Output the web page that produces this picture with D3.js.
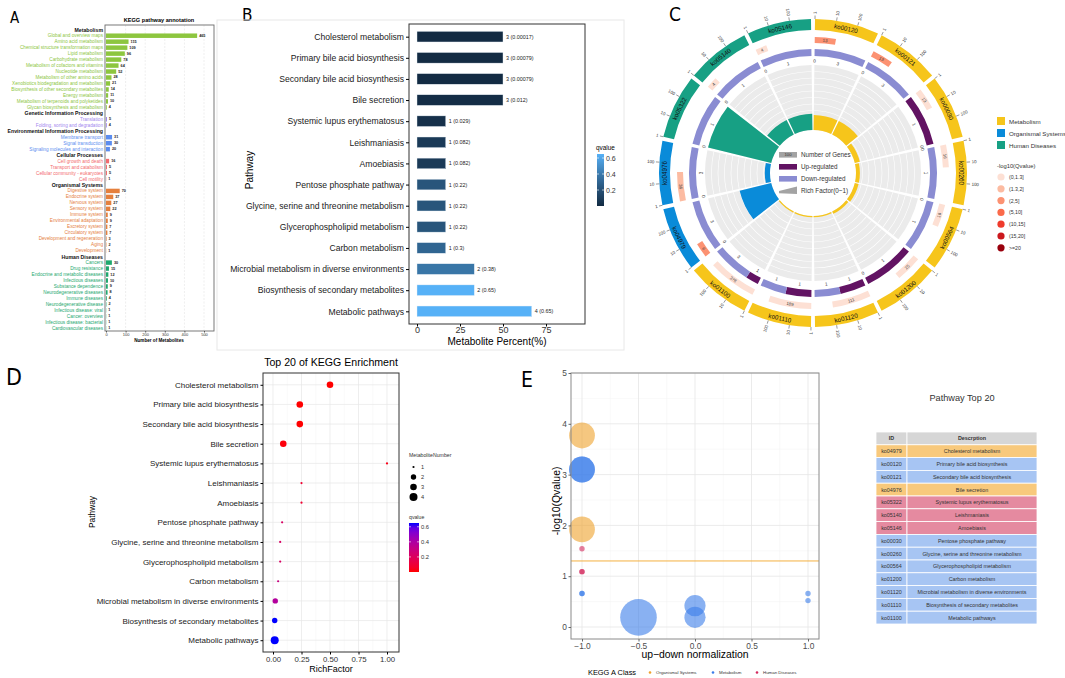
<!DOCTYPE html>
<html>
<head>
<meta charset="utf-8">
<script src="https://d3js.org/d3.v7.min.js"></script>
<style>
  body { margin: 0; background: #fff; }
  svg text { font-family: "Liberation Sans", Arial, sans-serif; }
  svg text.tag { font-family: "Liberation Sans Narrow", "DejaVu Sans Condensed", sans-serif; }
</style>
</head>
<body>
<script>
// ---------- data: panel A (KEGG pathway annotation) ----------
const aClasses = ["Metabolism", "Genetic Information Processing", "Environmental Information Processing",
  "Cellular Processes", "Organismal Systems", "Human Diseases"];
const aClassColors = ["#8dc63f", "#9f86ee", "#5b8def", "#f36b6e", "#e5803d", "#1ea86f"];
const metTerms = ["Global and overview maps", "Amino acid metabolism", "Chemical structure transformation maps",
  "Lipid metabolism", "Carbohydrate metabolism", "Metabolism of cofactors and vitamins", "Nucleotide metabolism",
  "Metabolism of other amino acids", "Xenobiotics biodegradation and metabolism",
  "Biosynthesis of other secondary metabolites", "Energy metabolism",
  "Metabolism of terpenoids and polyketides", "Glycan biosynthesis and metabolism"];
const metCounts = [465, 115, 109, 96, 78, 64, 52, 28, 21, 14, 11, 10, 4];
const genTerms = ["Translation", "Folding, sorting and degradation"];
const genCounts = [5, 4];
const envTerms = ["Membrane transport", "Signal transduction", "Signaling molecules and interaction"];
const envCounts = [31, 30, 20];
const celTerms = ["Cell growth and death", "Transport and catabolism", "Cellular community - eukaryotes", "Cell motility"];
const celCounts = [16, 5, 5, 1];
const orgTerms = ["Digestive system", "Endocrine system", "Nervous system", "Sensory system", "Immune system",
  "Environmental adaptation", "Excretory system", "Circulatory system", "Development and regeneration",
  "Aging", "Development"];
const orgCounts = [70, 37, 27, 22, 9, 9, 7, 7, 3, 2, 1];
const humTerms = ["Cancers", "Drug resistance", "Endocrine and metabolic diseases", "Infectious diseases",
  "Substance dependence", "Neurodegenerative diseases", "Immune diseases", "Neurodegenerative disease",
  "Infectious disease: viral", "Cancer: overview", "Infectious disease: bacterial", "Cardiovascular diseases"];
const humCounts = [30, 15, 12, 10, 9, 8, 4, 2, 1, 1, 1, 1];

// ---------- data: panels B, D, E (enriched pathways) ----------
const pathways = ["Cholesterol metabolism", "Primary bile acid biosynthesis", "Secondary bile acid biosynthesis",
  "Bile secretion", "Systemic lupus erythematosus", "Leishmaniasis", "Amoebiasis", "Pentose phosphate pathway",
  "Glycine, serine and threonine metabolism", "Glycerophospholipid metabolism", "Carbon metabolism",
  "Microbial metabolism in diverse environments", "Biosynthesis of secondary metabolites", "Metabolic pathways"];
const pathwayIds = ["ko04979", "ko00120", "ko00121", "ko04976", "ko05322", "ko05140", "ko05146", "ko00030",
  "ko00260", "ko00564", "ko01200", "ko01120", "ko01110", "ko01100"];
const pathwayClass = ["Organismal Systems", "Metabolism", "Metabolism", "Organismal Systems", "Human Diseases",
  "Human Diseases", "Human Diseases", "Metabolism", "Metabolism", "Metabolism", "Metabolism", "Metabolism",
  "Metabolism", "Metabolism"];
const metNumber = [3, 3, 3, 3, 1, 1, 1, 1, 1, 1, 1, 2, 2, 4];
const metPercent = [50, 50, 50, 50, 16.7, 16.7, 16.7, 16.7, 16.7, 16.7, 16.7, 33.3, 33.3, 66.7];
const qText = ["0.00017", "0.00079", "0.00079", "0.012", "0.029", "0.082", "0.082", "0.22", "0.22", "0.22",
  "0.3", "0.38", "0.65", "0.65"];
const richFactor = [0.5, 0.235, 0.235, 0.09, 1, 0.25, 0.25, 0.08, 0.063, 0.063, 0.045, 0.02, 0.015, 0.015];
const eNorm = [-1, -1, -1, -1, -1, -1, -1, 1, -1, -1, 1, 0, 0, -0.5];
const eLogQ = [3.77, 3.1, 3.1, 1.92, 1.54, 1.09, 1.09, 0.66, 0.66, 0.66, 0.52, 0.42, 0.19, 0.19];

// ---------- data: panel C (circos) ----------
const cIds = ["ko00120", "ko00121", "ko00030", "ko00260", "ko00564", "ko01200", "ko01120", "ko01110", "ko01100",
  "ko04979", "ko04976", "ko05322", "ko05140", "ko05146"];
const cClass = [0, 0, 0, 0, 0, 0, 0, 0, 0, 1, 1, 2, 2, 2];
const cGenes = [13, 13, 13, 16, 16, 25, 111, 189, 378, 6, 36, 1, 4, 4];
const cUp = [0, 0, 1, 0, 0, 1, 1, 1, 1, 0, 0, 0, 0, 0];
const cDown = [3, 3, 0, 1, 1, 0, 1, 1, 3, 3, 3, 1, 1, 1];
const cRich = [0.23, 0.23, 0.08, 0.06, 0.06, 0.04, 0.02, 0.01, 0.01, 0.5, 0.08, 1, 0.25, 0.25];
const cQLevel = [2, 2, 0, 0, 0, 0, 0, 0, 0, 2, 1, 0, 0, 0];
const cClassNames = ["Metabolism", "Organismal Systems", "Human Diseases"];
const cClassColors = ["#f6c51b", "#0a8bd9", "#17a084"];
const qLabels = ["(0,1.3]", "(1.3,2]", "(2,5]", "(5,10]", "(10,15]", "(15,20]", ">=20"];
const qColors = ["#fde0d4", "#fcbba1", "#fc9272", "#fb6a4a", "#ef3b2c", "#cb181d", "#99000d"];
const cTicks = [1, 10, 100];

// ---------- svg ----------
const svg = d3.select("body").append("svg").attr("width", 1065).attr("height", 678);
svg.append("rect").attr("width", 1065).attr("height", 678).attr("fill", "#fff");

// panel letters
[["A", 10, 23, 15], ["B", 242, 21, 17], ["C", 669, 21, 19], ["D", 6, 385, 23], ["E", 521, 387, 21]]
  .forEach(d => svg.append("text").attr("class", "tag").attr("x", d[1]).attr("y", d[2])
    .attr("font-size", d[3]).text(d[0]));

// =============== panel A ===============
const aTerms = [metTerms, genTerms, envTerms, celTerms, orgTerms, humTerms];
const aCounts = [metCounts, genCounts, envCounts, celCounts, orgCounts, humCounts];
const aRows = [];
aClasses.forEach((c, ci) => {
  aRows.push({ label: c, header: true, ci });
  aTerms[ci].forEach((t, i) => aRows.push({ label: t, value: aCounts[ci][i], ci }));
});
const xA = d3.scaleLinear().domain([0, 500]).range([106, 204]);
const yA = d3.scaleBand().domain(d3.range(aRows.length)).range([26, 332]).padding(0.25);
const gA = svg.append("g");
gA.append("text").attr("x", 159).attr("y", 22).attr("text-anchor", "middle")
  .attr("font-size", 5.6).attr("font-weight", "bold").text("KEGG pathway annotation");
gA.selectAll("line.grid").data([100, 200, 300, 400, 500]).join("line")
  .attr("x1", d => xA(d)).attr("x2", d => xA(d)).attr("y1", 25).attr("y2", 331)
  .attr("stroke", "#dcdcdc").attr("stroke-width", 0.5).attr("stroke-dasharray", "2,1.5");
const rowsA = aRows.map((d, i) => ({ ...d, i }));
gA.selectAll("rect.bar").data(rowsA.filter(d => !d.header)).join("rect")
  .attr("x", xA(0)).attr("y", d => yA(d.i)).attr("width", d => xA(d.value) - xA(0))
  .attr("height", yA.bandwidth()).attr("fill", d => aClassColors[d.ci]);
gA.selectAll("text.val").data(rowsA.filter(d => !d.header)).join("text")
  .attr("x", d => xA(d.value) + 2).attr("y", d => yA(d.i) + yA.bandwidth() / 2)
  .attr("dominant-baseline", "central").attr("font-size", 3.8).attr("font-weight", "bold")
  .attr("fill", "#222").text(d => d.value);
gA.selectAll("text.lab").data(rowsA).join("text")
  .attr("x", 103).attr("y", d => yA(d.i) + yA.bandwidth() / 2).attr("text-anchor", "end")
  .attr("dominant-baseline", "central")
  .attr("font-size", d => d.header ? 5.2 : 4.7).attr("font-weight", d => d.header ? "bold" : "normal")
  .attr("fill", d => d.header ? "#111" : aClassColors[d.ci]).text(d => d.label);
gA.append("rect").attr("x", 105).attr("y", 25).attr("width", 109).attr("height", 306)
  .attr("fill", "none").attr("stroke", "#6b6b6b").attr("stroke-width", 0.9);
const axA = gA.append("g").attr("transform", "translate(0,331)")
  .call(d3.axisBottom(xA).tickValues([0, 100, 200, 300, 400, 500]).tickSize(1.5).tickPadding(1));
axA.select(".domain").remove();
axA.selectAll("text").attr("font-size", 4).attr("fill", "#333");
axA.selectAll("line").attr("stroke", "#555");
gA.append("text").attr("x", 159).attr("y", 342).attr("text-anchor", "middle")
  .attr("font-size", 4.6).attr("font-weight", "bold").text("Number of Metabolites");

// =============== panel B ===============
const gB = svg.append("g");
gB.append("rect").attr("x", 217).attr("y", 20).attr("width", 407).attr("height", 330)
  .attr("fill", "none").attr("stroke", "#e8e8e8").attr("stroke-width", 1);
const yB = d3.scalePoint().domain(pathways).range([24, 324]).padding(0.6);
const xB = d3.scaleLinear().domain([0, 75]).range([417, 546]);
const qB = d3.scaleLinear().domain([0, 0.65]).range(["#132b43", "#56b1f7"]).interpolate(d3.interpolateLab);
const rowsB = pathways.map((p, i) => ({ p, v: metPercent[i], n: metNumber[i], q: qText[i] }));
gB.selectAll("rect.bar").data(rowsB).join("rect")
  .attr("x", xB(0)).attr("y", d => yB(d.p) - 5.3).attr("width", d => xB(d.v) - xB(0)).attr("height", 10.6)
  .attr("fill", d => qB(+d.q)).attr("stroke", "#e6eef5").attr("stroke-width", 0.4);
gB.selectAll("text.val").data(rowsB).join("text")
  .attr("x", d => xB(d.v) + 3).attr("y", d => yB(d.p)).attr("dominant-baseline", "central")
  .attr("font-size", 5.4).attr("fill", "#222").text(d => `${d.n} (${d.q})`);
gB.append("rect").attr("x", 409).attr("y", 24).attr("width", 176).attr("height", 300)
  .attr("fill", "none").attr("stroke", "#333").attr("stroke-width", 1);
const ayB = gB.append("g").attr("transform", "translate(409,0)").call(d3.axisLeft(yB).tickSize(3).tickPadding(2));
ayB.select(".domain").remove();
ayB.selectAll("text").attr("font-size", 8.6).attr("fill", "#1a1a1a");
const axB = gB.append("g").attr("transform", "translate(0,324)")
  .call(d3.axisBottom(xB).tickValues([0, 25, 50, 75]).tickSize(2.5).tickPadding(0.5));
axB.select(".domain").remove();
axB.selectAll("text").attr("font-size", 9).attr("fill", "#333");
gB.append("text").attr("x", 497).attr("y", 345).attr("text-anchor", "middle").attr("font-size", 10)
  .text("Metabolite Percent(%)");
gB.append("text").attr("transform", "translate(253,170) rotate(-90)").attr("text-anchor", "middle")
  .attr("font-size", 10).text("Pathway");
// qvalue colour bar
const defs = svg.append("defs");
const gradB = defs.append("linearGradient").attr("id", "gradB").attr("x1", 0).attr("y1", 1).attr("x2", 0).attr("y2", 0);
d3.range(0, 1.01, 0.1).forEach(t => gradB.append("stop").attr("offset", t).attr("stop-color", qB(t * 0.65)));
const cbB = d3.scaleLinear().domain([0, 0.65]).range([206, 154]);
gB.append("text").attr("x", 596).attr("y", 150).attr("font-size", 6.4).text("qvalue");
gB.append("rect").attr("x", 597).attr("y", 154).attr("width", 7).attr("height", 52).attr("fill", "url(#gradB)");
[0.2, 0.4, 0.6].forEach(v => {
  gB.append("line").attr("x1", 597).attr("x2", 599).attr("y1", cbB(v)).attr("y2", cbB(v)).attr("stroke", "#fff").attr("stroke-width", 0.6);
  gB.append("line").attr("x1", 602).attr("x2", 604).attr("y1", cbB(v)).attr("y2", cbB(v)).attr("stroke", "#fff").attr("stroke-width", 0.6);
  gB.append("text").attr("x", 606).attr("y", cbB(v)).attr("dominant-baseline", "central")
    .attr("font-size", 7).attr("fill", "#333").text(v.toFixed(1));
});

// =============== panel C ===============
const cx = 813, cy = 173;
const gC = svg.append("g").attr("transform", `translate(${cx},${cy})`);
const nS = cIds.length, span = 360 / nS, pad = 0.75;
const ang = (i, f) => i * span + pad + f * (span - 2 * pad);
const rad = d => d * Math.PI / 180;
const pol = (r, deg) => [r * Math.sin(rad(deg)), -r * Math.cos(rad(deg))];
const tang = deg => (deg > 90 && deg < 270) ? deg - 180 : deg;
const logF = d3.scaleLog().domain([1, 1000]).range([0, 1]);
const arc = d3.arc();
const seg = (r0, r1, a0, a1) => arc({ innerRadius: r0, outerRadius: r1, startAngle: rad(a0), endAngle: rad(a1) });
const R0 = 43, R1 = 108;
const rRich = d3.scaleLinear().domain([0, 1]).range([R0, R1]);

cIds.forEach((id, i) => {
  const col = cClassColors[cClass[i]];
  // rich factor background and bar
  gC.append("path").attr("d", seg(R0, R1, ang(i, 0), ang(i, 1))).attr("fill", "#ebebeb");
  d3.range(1, 10).forEach(k => gC.append("path")
    .attr("d", seg(rRich(k / 10) - 0.3, rRich(k / 10) + 0.3, ang(i, 0), ang(i, 1))).attr("fill", "#fff"));
  gC.append("path").attr("d", seg(R0, Math.max(rRich(cRich[i]), R0 + 1.3), ang(i, 0), ang(i, 1))).attr("fill", col);
  // up / down ring
  const tot = cUp[i] + cDown[i], fUp = cUp[i] / tot;
  if (cUp[i] > 0) gC.append("path").attr("d", seg(117, 124, ang(i, 0), ang(i, fUp))).attr("fill", "#621363");
  if (cDown[i] > 0) gC.append("path").attr("d", seg(117, 124, ang(i, fUp), ang(i, 1))).attr("fill", "#8a8cd2");
  [[cUp[i], ang(i, fUp / 2)], [cDown[i], ang(i, (1 + fUp) / 2)]].forEach(([v, a]) => {
    const [x, y] = pol(112, a);
    gC.append("text").attr("transform", `translate(${x},${y}) rotate(${tang(a)})`)
      .attr("text-anchor", "middle").attr("dominant-baseline", "central")
      .attr("font-size", 4.6).attr("fill", "#333").text(v);
  });
  // number of genes
  const fG = logF(cGenes[i]);
  if (fG > 0) {
    gC.append("path").attr("d", seg(130, 136, ang(i, 0), ang(i, fG))).attr("fill", qColors[cQLevel[i]]);
    const a = ang(i, fG / 2), [x, y] = pol(133, a);
    gC.append("text").attr("transform", `translate(${x},${y}) rotate(${tang(a)})`)
      .attr("text-anchor", "middle").attr("dominant-baseline", "central")
      .attr("font-size", 4.4).attr("fill", "#444").text(cGenes[i]);
  }
  // outer class ring
  gC.append("path").attr("d", seg(143, 154, ang(i, 0), ang(i, 1))).attr("fill", col);
  const am = ang(i, 0.5), [tx, ty] = pol(148.5, am);
  gC.append("text").attr("transform", `translate(${tx},${ty}) rotate(${tang(am)})`)
    .attr("text-anchor", "middle").attr("dominant-baseline", "central")
    .attr("font-size", 6.3).attr("fill", "#111").text(id);
  cTicks.forEach(t => {
    const a = ang(i, logF(t)), [x1, y1] = pol(154, a), [x2, y2] = pol(157.5, a), [lx, ly] = pol(159, a);
    gC.append("line").attr("x1", x1).attr("y1", y1).attr("x2", x2).attr("y2", y2)
      .attr("stroke", "#555").attr("stroke-width", 0.6);
    const right = a <= 180;
    gC.append("text").attr("transform", `translate(${lx},${ly}) rotate(${right ? a - 90 : a - 270})`)
      .attr("text-anchor", right ? "start" : "end").attr("dominant-baseline", "central")
      .attr("font-size", 4.4).attr("fill", "#333").text(t);
  });
});

// centre legend
const gCL = svg.append("g");
const cLeg = [["Number of Genes", "#a3a3a3", 152], ["Up-regulated", "#621363", 164], ["Down-regulated", "#8a8cd2", 176]];
cLeg.forEach(d => {
  gCL.append("rect").attr("x", 779).attr("y", d[2]).attr("width", 18).attr("height", 5.6).attr("fill", d[1]);
  gCL.append("text").attr("x", 801).attr("y", d[2] + 2.8).attr("dominant-baseline", "central")
    .attr("font-size", 6.3).attr("fill", "#333").text(d[0]);
});
gCL.append("text").attr("x", 788).attr("y", 154.8).attr("text-anchor", "middle").attr("dominant-baseline", "central")
  .attr("font-size", 4.2).attr("fill", "#333").text("100");
gCL.append("polygon").attr("points", "779,191 797,186.5 797,194 779,193.2").attr("fill", "#a3a3a3");
gCL.append("text").attr("x", 801).attr("y", 190.5).attr("dominant-baseline", "central")
  .attr("font-size", 6.3).attr("fill", "#333").text("Rich Factor(0~1)");

// right legend
const gCR = svg.append("g");
cClassNames.forEach((c, i) => {
  gCR.append("rect").attr("x", 997).attr("y", 117 + i * 12).attr("width", 8).attr("height", 8).attr("fill", cClassColors[i]);
  gCR.append("text").attr("x", 1009).attr("y", 121 + i * 12).attr("dominant-baseline", "central")
    .attr("font-size", 6.2).attr("fill", "#333").text(c);
});
gCR.append("text").attr("x", 997).attr("y", 166).attr("dominant-baseline", "central")
  .attr("font-size", 5.8).attr("fill", "#333").text("-log10(Qvalue)");
qLabels.forEach((q, i) => {
  gCR.append("circle").attr("cx", 1001).attr("cy", 177 + i * 11.8).attr("r", 3.6).attr("fill", qColors[i]);
  gCR.append("text").attr("x", 1009).attr("y", 177 + i * 11.8).attr("dominant-baseline", "central")
    .attr("font-size", 5.2).attr("fill", "#333").text(q);
});

// =============== panel D ===============
const gD = svg.append("g");
const xD = d3.scaleLinear().domain([0, 1]).range([273, 387]);
const yD = d3.scalePoint().domain(pathways).range([373, 652]).padding(0.6);
const qD = d3.scaleLinear().domain([0, 0.65]).range(["#ff0000", "#0000ff"]).interpolate(d3.interpolateLab);
const sD = d3.scaleLinear().domain([1, 2, 3, 4]).range([1.1, 2.7, 3.3, 4]);
gD.append("text").attr("x", 331).attr("y", 366).attr("text-anchor", "middle").attr("font-size", 10.6)
  .text("Top 20 of KEGG Enrichment");
[0.125, 0.375, 0.625, 0.875].forEach(v => gD.append("line").attr("x1", xD(v)).attr("x2", xD(v))
  .attr("y1", 373).attr("y2", 652).attr("stroke", "#f4f4f4").attr("stroke-width", 0.5));
[0, 0.25, 0.5, 0.75, 1].forEach(v => gD.append("line").attr("x1", xD(v)).attr("x2", xD(v))
  .attr("y1", 373).attr("y2", 652).attr("stroke", "#e6e6e6").attr("stroke-width", 0.7));
pathways.forEach(p => gD.append("line").attr("x1", 263).attr("x2", 399).attr("y1", yD(p)).attr("y2", yD(p))
  .attr("stroke", "#e6e6e6").attr("stroke-width", 0.7));
gD.selectAll("circle.pt").data(pathways.map((p, i) => ({ p, i }))).join("circle")
  .attr("cx", d => xD(richFactor[d.i])).attr("cy", d => yD(d.p)).attr("r", d => sD(metNumber[d.i]))
  .attr("fill", d => qD(+qText[d.i]));
gD.append("rect").attr("x", 263).attr("y", 373).attr("width", 136).attr("height", 279)
  .attr("fill", "none").attr("stroke", "#333").attr("stroke-width", 1);
const ayD = gD.append("g").attr("transform", "translate(263,0)").call(d3.axisLeft(yD).tickSize(2.5).tickPadding(2));
ayD.select(".domain").remove();
ayD.selectAll("text").attr("font-size", 8).attr("fill", "#1a1a1a");
const axD = gD.append("g").attr("transform", "translate(0,652)")
  .call(d3.axisBottom(xD).tickValues([0, 0.25, 0.5, 0.75, 1]).tickFormat(d3.format(".2f")).tickSize(2.5).tickPadding(1.5));
axD.select(".domain").remove();
axD.selectAll("text").attr("font-size", 7.8).attr("fill", "#333");
gD.append("text").attr("x", 331).attr("y", 672).attr("text-anchor", "middle").attr("font-size", 9).text("RichFactor");
gD.append("text").attr("transform", "translate(95,512) rotate(-90)").attr("text-anchor", "middle")
  .attr("font-size", 8.4).text("Pathway");
// legends
gD.append("text").attr("x", 409).attr("y", 457).attr("font-size", 5.2).attr("fill", "#333").text("MetaboliteNumber");
[1, 2, 3, 4].forEach((n, i) => {
  gD.append("circle").attr("cx", 413.5).attr("cy", 467 + i * 10).attr("r", sD(n)).attr("fill", "#000");
  gD.append("text").attr("x", 421).attr("y", 467 + i * 10).attr("dominant-baseline", "central")
    .attr("font-size", 5.6).attr("fill", "#333").text(n);
});
const gradD = defs.append("linearGradient").attr("id", "gradD").attr("x1", 0).attr("y1", 1).attr("x2", 0).attr("y2", 0);
d3.range(0, 1.01, 0.1).forEach(t => gradD.append("stop").attr("offset", t).attr("stop-color", qD(t * 0.65)));
const cbD = d3.scaleLinear().domain([0, 0.65]).range([572, 523]);
gD.append("text").attr("x", 409).attr("y", 519).attr("font-size", 5.2).attr("fill", "#333").text("qvalue");
gD.append("rect").attr("x", 409).attr("y", 523).attr("width", 10).attr("height", 49).attr("fill", "url(#gradD)");
[0.2, 0.4, 0.6].forEach(v => {
  gD.append("line").attr("x1", 409).attr("x2", 411).attr("y1", cbD(v)).attr("y2", cbD(v)).attr("stroke", "#fff").attr("stroke-width", 0.6);
  gD.append("line").attr("x1", 417).attr("x2", 419).attr("y1", cbD(v)).attr("y2", cbD(v)).attr("stroke", "#fff").attr("stroke-width", 0.6);
  gD.append("text").attr("x", 421).attr("y", cbD(v)).attr("dominant-baseline", "central")
    .attr("font-size", 5.8).attr("fill", "#333").text(v.toFixed(1));
});

// =============== panel E ===============
const gE = svg.append("g");
const xE = d3.scaleLinear().domain([-1, 1]).range([582, 808]);
const yE = d3.scaleLinear().domain([0, 5]).range([627, 373]);
const eColor = { "Organismal Systems": "#efa22c", "Metabolism": "#3b7de9", "Human Diseases": "#d42a5e" };
const sE = d3.scaleLinear().domain([1, 2, 3, 4]).range([2.7, 10.6, 12.9, 18.3]);
d3.range(-0.75, 1, 0.5).forEach(v => gE.append("line").attr("x1", xE(v)).attr("x2", xE(v))
  .attr("y1", 373).attr("y2", 639).attr("stroke", "#f3f3f3").attr("stroke-width", 0.5));
d3.range(0.5, 5, 1).forEach(v => gE.append("line").attr("x1", 571).attr("x2", 819)
  .attr("y1", yE(v)).attr("y2", yE(v)).attr("stroke", "#f3f3f3").attr("stroke-width", 0.5));
[-1, -0.5, 0, 0.5, 1].forEach(v => gE.append("line").attr("x1", xE(v)).attr("x2", xE(v))
  .attr("y1", 373).attr("y2", 639).attr("stroke", "#e6e6e6").attr("stroke-width", 0.8));
[0, 1, 2, 3, 4, 5].forEach(v => gE.append("line").attr("x1", 571).attr("x2", 819)
  .attr("y1", yE(v)).attr("y2", yE(v)).attr("stroke", "#e6e6e6").attr("stroke-width", 0.8));
gE.selectAll("circle.pt").data(pathwayIds.map((id, i) => i)).join("circle")
  .attr("cx", i => xE(eNorm[i])).attr("cy", i => yE(eLogQ[i])).attr("r", i => sE(metNumber[i]))
  .attr("fill", i => eColor[pathwayClass[i]]).attr("fill-opacity", 0.6);
gE.append("line").attr("x1", 571).attr("x2", 819).attr("y1", yE(1.3)).attr("y2", yE(1.3))
  .attr("stroke", "#f5b041").attr("stroke-width", 1);
gE.append("rect").attr("x", 571).attr("y", 373).attr("width", 248).attr("height", 266)
  .attr("fill", "none").attr("stroke", "#8a8a8a").attr("stroke-width", 1);
const ayE = gE.append("g").attr("transform", "translate(571,0)")
  .call(d3.axisLeft(yE).tickValues([0, 1, 2, 3, 4, 5]).tickFormat(d3.format("d")).tickSize(2.5).tickPadding(1.5));
ayE.select(".domain").remove();
ayE.selectAll("text").attr("font-size", 8.4).attr("fill", "#4d4d4d");
ayE.selectAll("line").attr("stroke", "#666");
const axE = gE.append("g").attr("transform", "translate(0,639)")
  .call(d3.axisBottom(xE).tickValues([-1, -0.5, 0, 0.5, 1]).tickFormat(d3.format(".1f")).tickSize(2.5).tickPadding(1.5));
axE.select(".domain").remove();
axE.selectAll("text").attr("font-size", 8.4).attr("fill", "#4d4d4d");
axE.selectAll("line").attr("stroke", "#666");
gE.append("text").attr("x", 695).attr("y", 658).attr("text-anchor", "middle").attr("font-size", 10.4)
  .text("up\u2212down normalization");
gE.append("text").attr("transform", "translate(560,501) rotate(-90)").attr("text-anchor", "middle")
  .attr("font-size", 10.4).text("-log10(Qvalue)");
gE.append("text").attr("x", 588).attr("y", 675).attr("font-size", 7.4).text("KEGG A Class");
[["Organismal Systems", 650], ["Metabolism", 713], ["Human Diseases", 757]].forEach(d => {
  gE.append("circle").attr("cx", d[1]).attr("cy", 672.5).attr("r", 1.3).attr("fill", eColor[d[0]]);
  gE.append("text").attr("x", d[1] + 6).attr("y", 672.5).attr("dominant-baseline", "central")
    .attr("font-size", 4.4).attr("fill", "#333").text(d[0]);
});

// table
const gT = svg.append("g");
gT.append("text").attr("x", 962).attr("y", 401).attr("text-anchor", "middle").attr("font-size", 9.2)
  .attr("fill", "#333").text("Pathway Top 20");
const tColor = { "Organismal Systems": "#f8c97c", "Metabolism": "#a7c5f3", "Human Diseases": "#e58aa0" };
const tY = d3.scaleBand().domain(d3.range(-1, pathwayIds.length)).range([432, 624]);
const tCols = [[876, 31], [907, 130]];
d3.range(-1, pathwayIds.length).forEach(r => {
  const fill = r < 0 ? "#d6d6d6" : tColor[pathwayClass[r]];
  const texts = r < 0 ? ["ID", "Descrption"] : [pathwayIds[r], pathways[r]];
  tCols.forEach((c, k) => {
    gT.append("rect").attr("x", c[0]).attr("y", tY(r)).attr("width", c[1]).attr("height", tY.bandwidth())
      .attr("fill", fill).attr("stroke", "#fff").attr("stroke-width", 0.8);
    gT.append("text").attr("x", c[0] + c[1] / 2).attr("y", tY(r) + tY.bandwidth() / 2)
      .attr("text-anchor", "middle").attr("dominant-baseline", "central")
      .attr("font-size", 5.4).attr("font-weight", r < 0 ? "bold" : "normal").attr("fill", "#333").text(texts[k]);
  });
});
</script>
</body>
</html>
